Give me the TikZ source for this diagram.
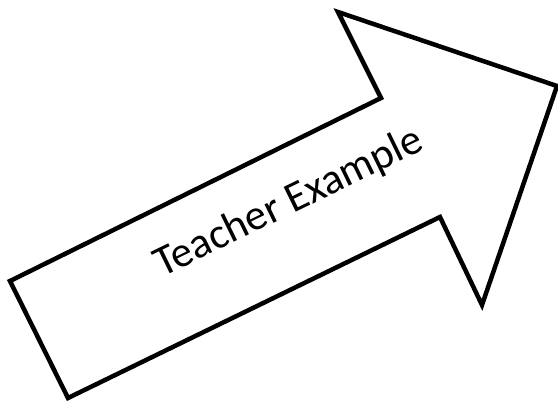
\documentclass[tikz,border=0pt]{standalone}
\usepackage{fontspec}
\setmainfont{Carlito}
\usetikzlibrary{positioning}

\begin{document}
\begin{tikzpicture}[
            x=1pt, y=-1pt,
            outline/.style={draw, line width=4.5pt, line join=miter, miter limit=10},
            arrowtext/.style={font=\fontsize{43}{50}\selectfont, rotate=26, inner sep=0pt}
        ]
            \useasboundingbox (0,0) rectangle (558,402);

            \coordinate (tailtop) at (10,281);
            \coordinate (tailbot) at (68,398);
            \coordinate (neckbot) at (440,217);
            \coordinate (barbbot) at (482,305);
            \coordinate (tip) at (557,86);
            \coordinate (barbtop) at (338,12);
            \coordinate (necktop) at (381,98);

            \draw[outline] (tailtop) -- (necktop) -- (barbtop) -- (tip) -- (barbbot) -- (neckbot) -- (tailbot) -- cycle;

            \node[arrowtext] (title) at (289,203) {Teacher Example};
        \end{tikzpicture}
\end{document}
